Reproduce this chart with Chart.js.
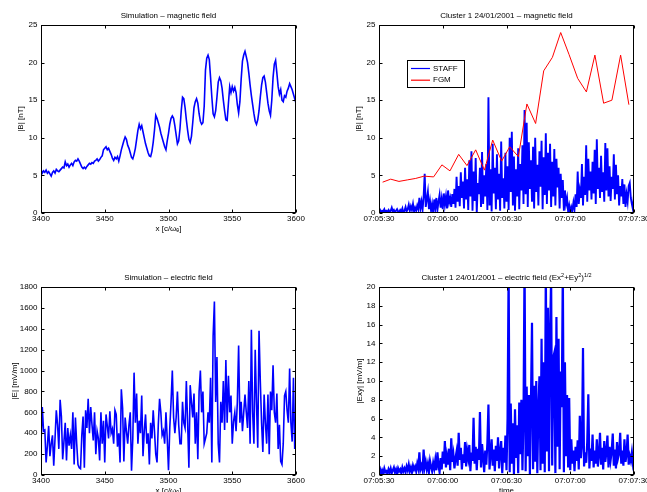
<!DOCTYPE html>
<html>
<head>
<meta charset="utf-8">
<script src="https://cdn.jsdelivr.net/npm/chart.js@4.4.0/dist/chart.umd.min.js"></script>
<style>
  html, body { margin: 0; padding: 0; background: #fff; overflow: hidden; }
  body { width: 647px; height: 492px; position: relative; }
  canvas { position: absolute; }
</style>
</head>
<body>
<canvas id="simB" width="320" height="240" style="left:0;top:0"></canvas>
<canvas id="clB" width="340" height="240" style="left:320px;top:0"></canvas>
<canvas id="simE" width="320" height="240" style="left:0;top:262px"></canvas>
<canvas id="clE" width="340" height="240" style="left:320px;top:262px"></canvas>
<script>
// Simulation: x from 3400 to 3600 [c/omega_e], one sample per unit
const simStart = 3400;
const simStep = 1;

const simB = [
  5.8, 5.3, 5.6, 5.4, 5.7, 5.3, 5.5, 5.2, 4.9, 5.4,
  5.6, 5.3, 5.8, 5.6, 5.5, 5.7, 5.9, 6.1, 6.0, 6.8,
  6.3, 6.5, 6.1, 6.4, 6.6, 6.3, 6.8, 7.0, 6.9, 7.2,
  6.9, 6.5, 6.1, 5.9, 6.1, 5.9, 6.2, 6.4, 6.6, 6.5,
  6.7, 6.6, 6.9, 7.0, 7.2, 6.9, 7.1, 7.4, 7.6, 8.4,
  8.6, 8.8, 8.4, 8.6, 8.2, 7.8, 7.3, 7.0, 7.4, 7.2,
  7.5, 6.9, 7.6, 8.4, 9.0, 9.6, 10.1, 9.8, 9.0, 8.6,
  8.0, 7.4, 7.2, 7.8, 8.6, 9.8, 11.0, 11.8, 11.2, 11.6,
  10.8, 10.0, 9.2, 8.6, 8.0, 7.6, 7.5, 8.2, 9.4, 11.0,
  13.0, 12.6, 12.0, 11.4, 10.6, 10.0, 9.4, 8.8, 8.4, 9.6,
  10.6, 11.8, 12.6, 12.9, 12.6, 11.6, 10.4, 9.2, 9.6, 11.2,
  13.6, 15.4, 15.2, 14.0, 12.4, 11.0, 9.8, 9.4, 10.2, 12.0,
  14.0, 14.8, 15.2, 14.6, 13.2, 12.2, 11.8, 12.0, 14.2, 19.0,
  20.6, 21.0, 20.4, 18.0, 15.4, 13.2, 12.8, 13.6, 15.4, 17.4,
  18.0, 17.6, 16.6, 15.0, 13.6, 12.4, 12.3, 14.6, 16.8, 16.0,
  16.8, 16.2, 16.7, 16.0, 14.4, 13.3, 14.8, 17.8, 20.2, 21.0,
  21.5, 20.8, 20.0, 18.6, 17.0, 15.6, 14.4, 13.2, 12.2, 11.8,
  12.4, 13.6, 15.4, 17.0, 18.0, 18.2, 17.4, 16.0, 14.6, 13.6,
  13.0, 15.0, 18.0, 19.8, 20.3, 18.6, 16.8, 15.8, 16.4, 15.0,
  14.8, 15.6, 15.4, 16.2, 16.6, 17.2, 16.8, 16.4, 15.8, 15.2,
  14.6
];

const simE = [
  300, 650, 420, 430, 120, 280, 470, 180, 300, 380,
  90, 350, 620, 480, 250, 720, 560, 150, 320, 500,
  140, 450, 280, 380, 250, 600, 100, 550, 300, 100,
  70, 60, 380, 560, 70, 620, 450, 730, 400, 650,
  480, 330, 600, 200, 420, 350, 140, 600, 300, 520,
  120, 580, 470, 350, 610, 400, 440, 300, 620, 580,
  270, 400, 120, 820, 640, 130, 550, 420, 300, 480,
  600, 40, 350, 980, 500, 780, 300, 520, 400, 760,
  180, 420, 580, 300, 400, 100, 500, 350, 620, 420,
  200, 120, 480, 730, 600, 380, 420, 300, 600, 350,
  45, 450, 700, 1000, 550, 400, 550, 800, 480, 300,
  300, 700, 500, 450, 900, 500, 70, 860, 700, 550,
  780, 300, 600, 150, 800, 1000, 600, 800, 300, 350,
  400, 600, 500, 930, 120, 1330, 1660, 700, 1130, 300,
  120, 700, 500, 900, 430, 1100, 500, 950, 600, 760,
  300, 510, 600, 420, 700, 1240, 500, 700, 420, 600,
  770, 600, 450, 900, 300, 1390, 600, 300, 1200, 700,
  260, 1380, 900, 500, 220, 770, 500, 300, 770, 200,
  800, 620, 1050, 600, 500, 780, 250, 480, 130, 100,
  300, 760, 800, 620, 500, 1020, 500, 320, 930, 250,
  500
];

// Cluster 1: seconds after 07:05:30, STAFF and EFW sampled every 0.5 s
const clStart = 0;
const clStep = 0.5;

const staffB = [
  0.2, 0.4, 0.1, 0.3, 0.2, 0.5, 0.1, 0.3, 0.2, 0.4,
  0.1, 0.3, 0.7, 0.2, 0.4, 0.1, 0.3, 0.5, 0.2, 0.1,
  0.4, 0.2, 0.6, 0.0, 0.3, 0.8, 0.2, 0.5, 1.1, 0.3,
  0.9, 0.4, 1.2, 0.2, 0.7, 0.3, 1.0, 0.5, 2.0, 0.6,
  1.5, 0.4, 2.2, 5.2, 0.8, 1.8, 2.8, 0.5, 1.6, 0.3,
  1.2, 0.0, 1.8, 0.6, 2.0, 0.4, 1.5, 2.4, 0.7, 1.9,
  0.5, 2.6, 1.1, 2.2, 0.6, 3.0, 1.4, 2.0, 0.8, 2.5,
  1.2, 3.2, 0.7, 4.8, 1.5, 3.6, 0.9, 5.4, 2.0, 4.2,
  0.6, 6.0, 1.8, 4.5, 0.4, 7.0, 2.2, 8.2, 0.3, 5.5,
  1.6, 7.3, 0.0, 4.0, 2.5, 6.0, 0.8, 8.1, 1.2, 5.0,
  2.2, 6.5, 0.4, 15.4, 1.0, 5.8, 0.2, 9.2, 2.6, 6.0,
  0.5, 7.8, 1.8, 5.2, 0.3, 9.5, 2.0, 4.6, 0.6, 8.0,
  1.5, 6.2, 0.4, 10.0, 2.8, 10.8, 1.0, 7.5, 0.3, 5.8,
  2.2, 8.6, 0.5, 6.5, 3.0, 9.0, 1.2, 13.7, 2.5, 12.0,
  0.8, 9.4, 3.2, 7.0, 1.5, 8.8, 0.6, 10.0, 2.8, 6.4,
  1.0, 8.2, 3.5, 9.6, 0.5, 7.4, 2.4, 10.6, 1.2, 8.0,
  3.0, 9.2, 0.8, 6.8, 2.2, 8.5, 1.0, 7.2, 3.4, 6.0,
  0.6, 5.2, 2.0, 4.4, 0.3, 3.0, 1.2, 2.0, 0.2, 1.0,
  0.0, 0.8, 0.3, 1.4, 0.5, 2.5, 0.8, 5.5, 1.2, 3.0,
  2.0, 6.5, 1.0, 4.8, 2.4, 9.0, 1.5, 7.2, 3.0, 5.5,
  1.8, 6.8, 2.6, 8.4, 1.2, 9.8, 3.2, 6.0, 2.0, 7.6,
  2.8, 5.4, 1.5, 9.3, 3.0, 8.6, 2.2, 6.2, 1.6, 4.8,
  3.2, 7.8, 1.8, 6.4, 2.5, 5.0, 1.0, 3.6, 2.2, 4.5,
  1.2, 3.8, 0.8, 2.5, 1.5, 3.6, 4.0, 2.0, 1.2, 0.5,
  2.5
];

// FGM spin resolution (about one point every 4 s)
const fgmTimes = [
  1.7, 5.5, 9.4, 13.3, 17.3, 21.2, 25.7, 29.6, 33.4, 37.5,
  41.4, 45.5, 49.6, 53.5, 57.7, 61.5, 65.6, 69.6, 73.7, 77.5,
  81.6, 85.5, 89.4, 93.5, 97.6, 101.6, 105.7, 109.6, 113.7, 117.6
];
const fgmB = [
  4.1, 4.5, 4.2, 4.4, 4.6, 4.9, 4.8, 6.4, 5.6, 7.8,
  6.3, 8.4, 5.7, 9.7, 6.9, 8.8, 7.5, 14.5, 11.9, 18.9,
  20.7, 24.0, 21.1, 17.9, 16.1, 21.0, 14.6, 15.0, 21.0, 14.4
];

const efwExy = [
  0.3, 0.6, 0.1, 0.5, 0.2, 0.7, 0.3, 0.4, 0.1, 0.6,
  0.3, 0.7, 0.2, 0.5, 0.8, 0.3, 0.6, 0.1, 0.7, 0.4,
  0.6, 0.2, 0.8, 0.4, 0.7, 0.3, 0.9, 0.5, 1.1, 0.4,
  0.8, 0.3, 1.0, 0.6, 0.9, 0.4, 1.2, 0.7, 2.4, 0.6,
  1.0, 0.5, 2.7, 0.8, 1.4, 0.6, 1.2, 0.3, 1.5, 0.9,
  0.4, 1.3, 0.7, 1.6, 0.5, 2.4, 1.0, 0.3, 1.8, 0.6,
  2.5, 1.2, 3.6, 0.8, 2.0, 1.1, 2.8, 0.5, 3.9, 1.4,
  2.2, 0.7, 1.8, 2.5, 1.0, 4.5, 1.6, 2.9, 0.6, 2.2,
  1.3, 3.5, 0.9, 2.6, 1.8, 3.2, 0.4, 2.4, 1.5, 6.1,
  1.2, 3.0, 0.5, 2.8, 1.6, 6.7, 0.8, 3.3, 1.9, 0.3,
  2.6, 1.1, 3.4, 7.5, 0.6, 2.2, 3.8, 1.0, 2.7, 0.4,
  3.1, 1.5, 4.0, 0.7, 2.5, 3.6, 0.2, 2.9, 1.3, 4.2,
  0.5, 6.0, 22, 0.3, 7.6, 1.2, 5.5, 0.1, 7.0, 1.8,
  5.3, 0.2, 7.7, 2.2, 8.0, 0.5, 6.1, 23, 0.4, 9.4,
  2.0, 8.5, 0.1, 7.8, 16.2, 0.6, 9.5, 1.4, 10.0, 0.2,
  7.0, 10.5, 0.5, 14.5, 1.2, 12.0, 0.3, 22, 2.5, 17.8,
  0.4, 15.0, 21, 1.0, 12.5, 13.0, 0.2, 16.8, 3.0, 14.5,
  0.6, 11.0, 7.2, 22, 0.3, 12.0, 2.0, 8.5, 0.8, 8.2,
  0.5, 3.8, 1.2, 2.6, 0.4, 3.0, 1.5, 3.7, 0.6, 6.3,
  1.8, 3.2, 13.5, 0.9, 2.4, 1.3, 3.5, 8.6, 0.7, 2.8,
  1.5, 4.3, 0.8, 2.6, 1.2, 3.8, 0.9, 2.2, 4.5, 1.1,
  2.9, 0.6, 3.6, 1.4, 2.4, 4.2, 0.8, 3.0, 1.6, 2.5,
  4.4, 1.0, 2.7, 0.7, 3.5, 1.8, 2.3, 4.5, 1.2, 2.6,
  1.0, 3.8, 1.4, 2.2, 4.3, 1.1, 2.0, 1.5, 2.4, 1.2,
  1.8
];

const FONT = "'Liberation Sans', Arial, sans-serif";
const FONT_SIZE = 8;
Chart.defaults.font.family = FONT;
Chart.defaults.font.size = FONT_SIZE;
Chart.defaults.color = '#000';

function sampled(start, step, values) {
    return values.map((v, i) => ({ x: start + i * step, y: v }));
}

function paired(xs, ys) {
    return xs.map((x, i) => ({ x: x, y: ys[i] }));
}

// seconds after 07:05:30 -> hh:mm:ss
function clock(s) {
    const t = 7 * 3600 + 5 * 60 + 30 + Math.round(s);
    const p = n => String(n).padStart(2, '0');
    return p(Math.floor(t / 3600)) + ':' + p(Math.floor(t / 60) % 60) + ':' + p(t % 60);
}

// MATLAB style box with inward ticks on all four sides
const boxPlugin = {
    id: 'matlabBox',
    afterDatasetsDraw(chart) {
        const { ctx, chartArea: a } = chart;
        const L = Math.round(a.left) + 0.5, R = Math.round(a.right) - 0.5;
        const T = Math.round(a.top) + 0.5, B = Math.round(a.bottom) - 0.5;
        ctx.save();
        ctx.strokeStyle = '#000';
        ctx.lineWidth = 1;
        ctx.strokeRect(L, T, R - L, B - T);
        ctx.beginPath();
        chart.scales.x.ticks.forEach(t => {
            const px = Math.round(chart.scales.x.getPixelForValue(t.value)) + 0.5;
            ctx.moveTo(px, B); ctx.lineTo(px, B - 3);
            ctx.moveTo(px, T); ctx.lineTo(px, T + 3);
        });
        chart.scales.y.ticks.forEach(t => {
            const py = Math.round(chart.scales.y.getPixelForValue(t.value)) + 0.5;
            ctx.moveTo(L, py); ctx.lineTo(L + 3, py);
            ctx.moveTo(R, py); ctx.lineTo(R - 3, py);
        });
        ctx.stroke();
        ctx.restore();
    }
};

// title with optional superscripts
function titlePlugin(parts) {
    return {
        id: 'mtitle',
        afterDraw(chart) {
            const { ctx, chartArea: a } = chart;
            const base = FONT_SIZE + 'px ' + FONT;
            const sup = '5.5px ' + FONT;
            ctx.save();
            let w = 0;
            parts.forEach(p => { ctx.font = p.sup ? sup : base; w += ctx.measureText(p.t).width; });
            let x = (a.left + a.right) / 2 - w / 2;
            const y = a.top - 9;
            ctx.fillStyle = '#000';
            ctx.textBaseline = 'middle';
            ctx.textAlign = 'left';
            parts.forEach(p => {
                ctx.font = p.sup ? sup : base;
                ctx.fillText(p.t, x, p.sup ? y - 3 : y);
                x += ctx.measureText(p.t).width;
            });
            ctx.restore();
        }
    };
}

// boxed legend inside the axes, like MATLAB's legend
function legendPlugin(dx, dy, w, h) {
    return {
        id: 'mlegend',
        afterDraw(chart) {
            const { ctx, chartArea: a } = chart;
            const x = Math.round(a.left + dx), y = Math.round(a.top + dy);
            ctx.save();
            ctx.fillStyle = '#fff';
            ctx.fillRect(x, y, w, h);
            ctx.strokeStyle = '#000';
            ctx.lineWidth = 1;
            ctx.strokeRect(x + 0.5, y + 0.5, w, h);
            ctx.font = FONT_SIZE + 'px ' + FONT;
            ctx.textBaseline = 'middle';
            chart.data.datasets.forEach((ds, i) => {
                const ly = y + 8.5 + i * 11.7;
                ctx.strokeStyle = ds.borderColor;
                ctx.lineWidth = 1.2;
                ctx.beginPath();
                ctx.moveTo(x + 4, ly);
                ctx.lineTo(x + 23, ly);
                ctx.stroke();
                ctx.fillStyle = '#000';
                ctx.fillText(ds.label, x + 26, ly);
            });
            ctx.restore();
        }
    };
}

function makeOptions(cfg) {
    return {
        responsive: false,
        animation: false,
        events: [],
        layout: { padding: { top: 25, right: cfg.padRight, left: 0, bottom: 0 } },
        plugins: { legend: { display: false }, tooltip: { enabled: false }, title: { display: false } },
        scales: {
            x: {
                type: 'linear',
                min: cfg.xMin, max: cfg.xMax,
                grid: { display: false, drawTicks: false },
                border: { display: false },
                ticks: { stepSize: cfg.xStep, autoSkip: false, maxRotation: 0, padding: 0.7, callback: cfg.xFmt },
                title: { display: !!cfg.xTitle, text: cfg.xTitle, padding: { top: 0, bottom: 6.5 } },
                afterFit: s => { s.height = 27; }
            },
            y: {
                type: 'linear',
                min: cfg.yMin, max: cfg.yMax,
                grid: { display: false, drawTicks: false },
                border: { display: false },
                ticks: { stepSize: cfg.yStep, autoSkip: false, padding: 3.5, callback: v => String(v) },
                title: { display: true, text: cfg.yTitle, padding: { top: cfg.yTitlePad, bottom: 0 } },
                afterFit: s => { s.width = cfg.yWidth; }
            }
        }
    };
}

const line = (label, data, color, width, order) => ({
    label: label, data: data, borderColor: color, borderWidth: width,
    pointRadius: 0, fill: false, tension: 0, order: order
});

new Chart(document.getElementById('simB'), {
    type: 'line',
    data: { datasets: [line('|B|', sampled(simStart, simStep, simB), '#0000ff', 1.6, 0)] },
    options: makeOptions({
        padRight: 24, yWidth: 41, yTitlePad: 16.2,
        xMin: 3400, xMax: 3600, xStep: 50, xFmt: v => String(v), xTitle: 'x [c/ωₑ]',
        yMin: 0, yMax: 25, yStep: 5, yTitle: '|B| [nT]'
    }),
    plugins: [boxPlugin, titlePlugin([{ t: 'Simulation – magnetic field' }])]
});

new Chart(document.getElementById('clB'), {
    type: 'line',
    data: {
        datasets: [
            line('STAFF', sampled(clStart, clStep, staffB), '#0000ff', 1.9, 1),
            line('FGM', paired(fgmTimes, fgmB), '#ff0000', 1, 0)
        ]
    },
    options: makeOptions({
        padRight: 26, yWidth: 59, yTitlePad: 34.2,
        xMin: 0, xMax: 120, xStep: 30, xFmt: v => clock(v), xTitle: '',
        yMin: 0, yMax: 25, yStep: 5, yTitle: '|B| [nT]'
    }),
    plugins: [boxPlugin, titlePlugin([{ t: 'Cluster 1 24/01/2001 – magnetic field' }]), legendPlugin(28, 35, 57, 27)]
});

new Chart(document.getElementById('simE'), {
    type: 'line',
    data: { datasets: [line('|E|', sampled(simStart, simStep, simE), '#0000ff', 1.6, 0)] },
    options: makeOptions({
        padRight: 24, yWidth: 41, yTitlePad: 10.2,
        xMin: 3400, xMax: 3600, xStep: 50, xFmt: v => String(v), xTitle: 'x [c/ωₑ]',
        yMin: 0, yMax: 1800, yStep: 200, yTitle: '|E| [mV/m]'
    }),
    plugins: [boxPlugin, titlePlugin([{ t: 'Simulation – electric field' }])]
});

new Chart(document.getElementById('clE'), {
    type: 'line',
    data: { datasets: [line('|Exy|', sampled(clStart, clStep, efwExy), '#0000ff', 2.2, 0)] },
    options: makeOptions({
        padRight: 26, yWidth: 59, yTitlePad: 35.2,
        xMin: 0, xMax: 120, xStep: 30, xFmt: v => clock(v), xTitle: 'time',
        yMin: 0, yMax: 20, yStep: 2, yTitle: '|Exy| [mV/m]'
    }),
    plugins: [boxPlugin, titlePlugin([
        { t: 'Cluster 1 24/01/2001 – electric field (Ex' }, { t: '2', sup: true },
        { t: '+Ey' }, { t: '2', sup: true }, { t: ')' }, { t: '1/2', sup: true }
    ])]
});
</script>
</body>
</html>
